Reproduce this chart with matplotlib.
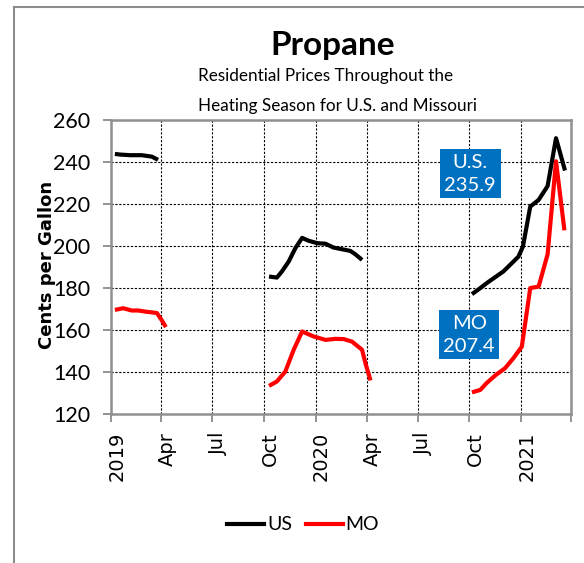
import numpy as np
import matplotlib
matplotlib.use('Agg')
import matplotlib.pyplot as plt
import matplotlib.dates as mdates
import matplotlib.transforms as mtransforms
from matplotlib.lines import Line2D

narrow = ['Lato', 'DejaVu Sans']

# three heating seasons, US and Missouri residential propane (cents/gal)
us_dates_1 = ['2019-01-08', '2019-01-17', '2019-02-04', '2019-02-25', '2019-03-15', '2019-03-26']
us_vals_1 = [243.8, 243.5, 243.2, 243.2, 242.5, 241.0]
mo_dates_1 = ['2019-01-08', '2019-01-23', '2019-02-07', '2019-02-19', '2019-03-03', '2019-03-24', '2019-04-01', '2019-04-09']
mo_vals_1 = [169.5, 170.3, 169.2, 169.2, 168.7, 168.0, 164.8, 161.3]

us_dates_2 = ['2019-10-10', '2019-10-24', '2019-11-02', '2019-11-14', '2019-11-26', '2019-12-08', '2019-12-20',
              '2020-01-04', '2020-01-19', '2020-02-02', '2020-02-17', '2020-03-03', '2020-03-12', '2020-03-24']
us_vals_2 = [185.4, 184.9, 187.8, 192.5, 198.9, 203.8, 202.4, 201.3, 201.0, 199.2, 198.4, 197.6, 196.0, 193.3]
mo_dates_2 = ['2019-10-10', '2019-10-24', '2019-11-08', '2019-11-23', '2019-12-08', '2019-12-29', '2020-01-19',
              '2020-02-05', '2020-02-20', '2020-03-06', '2020-03-24', '2020-03-30', '2020-04-08']
mo_vals_2 = [133.3, 135.4, 140.1, 150.5, 159.2, 156.8, 155.2, 155.7, 155.6, 154.4, 150.5, 144.1, 135.9]

us_dates_3 = ['2020-10-06', '2020-10-19', '2020-11-01', '2020-12-01', '2020-12-19', '2020-12-28', '2021-01-05',
              '2021-01-18', '2021-02-02', '2021-02-18', '2021-03-05', '2021-03-21']
us_vals_3 = [177.0, 179.5, 182.2, 187.8, 192.5, 194.9, 199.7, 218.7, 221.9, 228.5, 251.3, 235.9]
mo_dates_3 = ['2020-10-06', '2020-10-21', '2020-11-01', '2020-11-18', '2020-12-04', '2020-12-19', '2021-01-03',
              '2021-01-18', '2021-02-02', '2021-02-18', '2021-03-05', '2021-03-20']
mo_vals_3 = [130.2, 131.4, 134.6, 138.6, 141.7, 146.5, 152.0, 179.9, 180.6, 196.0, 240.3, 207.4]

tick_dates = ['2019-01-01', '2019-04-01', '2019-07-01', '2019-10-01', '2020-01-01', '2020-04-01',
              '2020-07-01', '2020-10-01', '2021-01-01', '2021-04-01']
tick_labels = ['2019', 'Apr', 'Jul', 'Oct', '2020', 'Apr', 'Jul', 'Oct', '2021', '']

fig = plt.figure(figsize=(5.84, 5.63), dpi=100)
ax = fig.add_axes([0.190, 0.265, 0.788, 0.522])

d = lambda s: mdates.date2num(np.array(s, dtype='datetime64[D]'))

for dates, vals in [(us_dates_1, us_vals_1), (us_dates_2, us_vals_2), (us_dates_3, us_vals_3)]:
    ax.plot(d(dates), vals, color='black', lw=3, solid_capstyle='butt', zorder=3)
for dates, vals in [(mo_dates_1, mo_vals_1), (mo_dates_2, mo_vals_2), (mo_dates_3, mo_vals_3)]:
    ax.plot(d(dates), vals, color='red', lw=3, solid_capstyle='butt', zorder=3)

ax.set_xlim(d(tick_dates[0]), d(tick_dates[-1]))
ax.set_ylim(120, 260)
ax.set_xticks(d(tick_dates))
ax.set_xticklabels(tick_labels, rotation=90, fontsize=14, family='DejaVu Sans')
ax.set_yticks(np.arange(120, 261, 20))
ax.set_yticklabels([str(v) for v in range(120, 261, 20)], fontsize=15.5, family=narrow)
ax.tick_params(axis='x', length=6, width=1.2, color='#808080', pad=7)
ax.tick_params(axis='y', length=6, width=1.2, color='#808080', pad=9)
# shift the rotated month labels a little right of their ticks
shift = mtransforms.ScaledTranslation(6 / 100, 0, fig.dpi_scale_trans)
for lab in ax.get_xticklabels():
    lab.set_transform(lab.get_transform() + shift)
ax.grid(True, color='black', linestyle=(0, (2, 1.5)), linewidth=0.8)
ax.set_axisbelow(True)
for sp in ax.spines.values():
    sp.set_color('#909090')
    sp.set_linewidth(1.8)

ax.text(d('2020-10-03'), 234.3, 'U.S.\n235.9', ha='center', va='center', color='white',
        fontsize=14.5, family=narrow, linespacing=1.45,
        bbox=dict(boxstyle='square,pad=0.22', facecolor='#0070C0', edgecolor='none'))
ax.text(d('2020-10-01'), 157.6, 'MO\n207.4', ha='center', va='center', color='white',
        fontsize=14.5, family=narrow, linespacing=1.45,
        bbox=dict(boxstyle='square,pad=0.22', facecolor='#0070C0', edgecolor='none'))

fig.text(333 / 584, 1 - 45 / 563, 'Propane', ha='center', va='center', fontsize=24,
         fontweight='bold', family=narrow)
fig.text(198 / 584, 1 - 76 / 563, 'Residential Prices Throughout the', ha='left', va='center',
         fontsize=12.3, family=narrow)
fig.text(198 / 584, 1 - 106 / 563, 'Heating Season for U.S. and Missouri', ha='left', va='center',
         fontsize=12.3, family=narrow)
fig.text(47 / 584, 1 - 265 / 563, 'Cents per Gallon', rotation=90, ha='center', va='center',
         fontsize=13, fontweight='bold', family='DejaVu Sans')

handles = [Line2D([], [], color='black', lw=3), Line2D([], [], color='red', lw=3)]
fig.legend(handles, ['US', 'MO'], loc='center', bbox_to_anchor=(303 / 584, 1 - 525 / 563), ncol=2,
           frameon=False, prop={'family': narrow, 'size': 14}, handlelength=1.9,
           handletextpad=0.15, columnspacing=0.7)

# outer chart frame (left and top edges visible)
fig.add_artist(Line2D([14 / 584, 14 / 584], [0, 1 - 7 / 563], color='#8c8c8c', lw=1.5))
fig.add_artist(Line2D([14 / 584, 1], [1 - 7 / 563, 1 - 7 / 563], color='#8c8c8c', lw=1.5))

fig.savefig('out.png', dpi=100)
